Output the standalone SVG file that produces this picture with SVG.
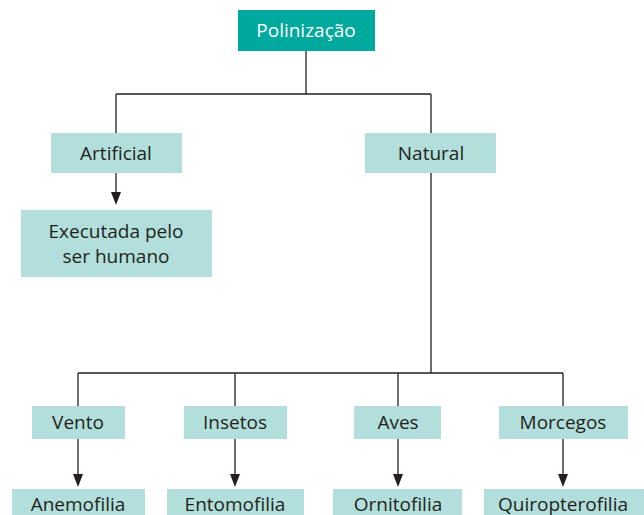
<svg xmlns="http://www.w3.org/2000/svg" width="644" height="515" viewBox="0 0 644 515">
<style>
.b{fill:#b2dfdb}
.t{font-family:"Open Sans","Liberation Sans",Arial,sans-serif;font-size:19px;fill:#231f20;text-anchor:middle}
.c{stroke:#231f20;stroke-width:1.3;fill:none}
</style>
<g id="connectors">
<path class="c" d="M306,51 V94 M116,94 H431 M116,94 V133 M431,94 V133"/>
<path class="c" d="M116,173 V192"/>
<path d="M111,192 L121,192 L116,205 Z" fill="#231f20"/>
<path class="c" d="M431,173 V373 M78,373 H563 M78,373 V406 M235,373 V406 M398,373 V406 M563,373 V406"/>
<path class="c" d="M78,439 V474 M235,439 V474 M398,439 V474 M563,439 V474"/>
<path d="M73,474 L83,474 L78,487 Z M230,474 L240,474 L235,487 Z M393,474 L403,474 L398,487 Z M558,474 L568,474 L563,487 Z" fill="#231f20"/>
</g>
<g id="polinizacao"><rect x="238" y="10" width="137" height="41" fill="#00a99d"/><text class="t" x="306" y="37" style="fill:#fff">Polinização</text></g>
<g id="artificial"><rect class="b" x="51" y="133" width="131" height="40"/><text class="t" x="116" y="160">Artificial</text></g>
<g id="natural"><rect class="b" x="365" y="133" width="131" height="40"/><text class="t" x="431" y="160">Natural</text></g>
<g id="executada"><rect class="b" x="21" y="210" width="191" height="67"/><text class="t" x="116" y="238">Executada pelo</text><text class="t" x="116" y="263">ser humano</text></g>
<g id="vento"><rect class="b" x="32" y="406" width="93" height="33"/><text class="t" x="78" y="429">Vento</text></g>
<g id="insetos"><rect class="b" x="184" y="406" width="103" height="33"/><text class="t" x="235" y="429">Insetos</text></g>
<g id="aves"><rect class="b" x="354" y="406" width="87" height="33"/><text class="t" x="398" y="429">Aves</text></g>
<g id="morcegos"><rect class="b" x="499" y="406" width="129" height="33"/><text class="t" x="563" y="429">Morcegos</text></g>
<g id="anemofilia"><rect class="b" x="12" y="489" width="133" height="30"/><text class="t" x="78" y="511">Anemofilia</text></g>
<g id="entomofilia"><rect class="b" x="167" y="489" width="137" height="30"/><text class="t" x="235" y="511">Entomofilia</text></g>
<g id="ornitofilia"><rect class="b" x="333" y="489" width="129" height="30"/><text class="t" x="398" y="511">Ornitofilia</text></g>
<g id="quiropterofilia"><rect class="b" x="484" y="489" width="164" height="30"/><text class="t" x="563" y="511">Quiropterofilia</text></g>
</svg>
